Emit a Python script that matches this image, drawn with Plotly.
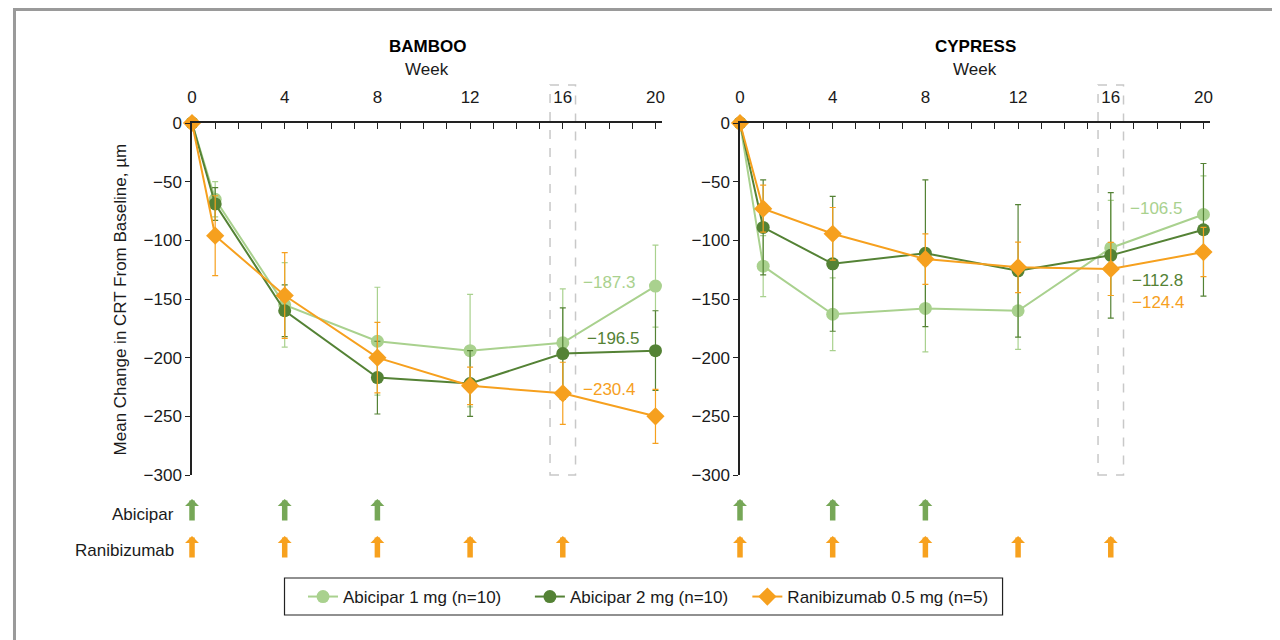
import plotly.graph_objects as go

# ---------------- data ----------------
weeks = [0, 1, 4, 8, 12, 16, 20]
x_tick_vals = list(range(0, 21))
x_tick_labels = [str(w) if w % 4 == 0 else "" for w in x_tick_vals]
y_tick_vals = [0, -50, -100, -150, -200, -250, -300]
y_tick_labels = ["0", "\u221250", "\u2212100", "\u2212150", "\u2212200", "\u2212250", "\u2212300"]

series_names = ["Abicipar 1 mg (n=10)", "Abicipar 2 mg (n=10)", "Ranibizumab 0.5 mg (n=5)"]

bamboo_abi1 = [0, -65, -155, -186, -194, -187.3, -139]
bamboo_abi1_err = [0, 15, 36, 46, 48, 46, 35]
bamboo_abi2 = [0, -69, -160, -217, -222, -196.5, -194]
bamboo_abi2_err = [0, 14, 22, 31, 28, 39, 34]
bamboo_rani = [0, -96, -147, -200, -224, -230.4, -250]
bamboo_rani_err = [0, 34, 36.5, 30, 16, 26.5, 23]

cypress_abi1 = [0, -122, -163, -158, -160, -106.5, -78]
cypress_abi1_err = [0, 26, 31, 37, 33, 40.5, 33]
cypress_abi2 = [0, -89, -120, -111, -126, -112.8, -91]
cypress_abi2_err = [0, 40.5, 57.5, 62.5, 56.5, 53.5, 56.5]
cypress_rani = [0, -73, -94.4, -116, -123, -124.4, -110]
cypress_rani_err = [0, 20, 22.4, 21.5, 21.5, 22.6, 21]

highlight_week = 16
abicipar_dose_weeks = [0, 4, 8]
ranibizumab_dose_weeks = [0, 4, 8, 12, 16]

panel_titles = ["BAMBOO", "CYPRESS"]

# ---------------- styling ----------------
FONT = "Liberation Sans, Arial, sans-serif"
TXT = "#1a1a1a"
LIGHT = "#A9D18E"
DARK = "#548235"
ORANGE = "#F6A01E"
ARROW_GREEN = "#76A757"
ARROW_ORANGE = "#F7A11E"
colors = [LIGHT, DARK, ORANGE]
symbols = ["circle", "circle", "diamond"]
msizes = [13, 13, 14]
legend_pad = ["\u00a0" * 5, "\u00a0" * 3, ""]

W, H = 1280, 640
OFF = 8  # page body margin: page px = figure px + OFF
PLOT_TOP, PLOT_BOT = 123, 475  # page px of the plot area
MT = PLOT_TOP - OFF
MB = H - (PLOT_BOT - OFF)
PH = PLOT_BOT - PLOT_TOP


def py(page_y):
    """page pixel y -> paper y"""
    return (PLOT_BOT - page_y) / PH


def px(page_x):
    """page pixel x -> paper x"""
    return (page_x - OFF) / W


fig = go.Figure()

panels = [
    ("x", "y", [bamboo_abi1, bamboo_abi2, bamboo_rani],
     [bamboo_abi1_err, bamboo_abi2_err, bamboo_rani_err]),
    ("x2", "y2", [cypress_abi1, cypress_abi2, cypress_rani],
     [cypress_abi1_err, cypress_abi2_err, cypress_rani_err]),
]

for pi, (xa, ya, vals, errs) in enumerate(panels):
    for si in range(3):
        fig.add_trace(go.Scatter(
            x=weeks, y=vals[si], xaxis=xa, yaxis=ya,
            mode="lines+markers", name=series_names[si] + legend_pad[si],
            showlegend=(pi == 0), cliponaxis=False,
            line=dict(color=colors[si], width=2),
            marker=dict(color=colors[si], symbol=symbols[si], size=msizes[si]),
            error_y=dict(type="data", array=errs[si], symmetric=True,
                         color=colors[si], thickness=1.2, width=3),
        ))

axis_common = dict(showgrid=False, zeroline=False, showline=True,
                   linecolor="#222", linewidth=1.5, tickcolor="#222",
                   tickfont=dict(family=FONT, size=17, color=TXT), fixedrange=True)

P1 = (188, 661)
P2 = (739, 1212)

fig.update_layout(
    xaxis=dict(domain=[px(P1[0]), px(P1[1])], range=[0, 20.3], side="top", anchor="y",
               ticks="inside", ticklen=6, tickwidth=1.2, tickmode="array",
               tickvals=x_tick_vals, ticktext=x_tick_labels, ticklabelstandoff=11,
               **axis_common),
    yaxis=dict(domain=[0, 1], range=[-300, 0], anchor="x", ticks="outside",
               ticklen=5, tickwidth=1.2, tickmode="array", tickvals=y_tick_vals,
               ticktext=y_tick_labels, **axis_common),
    xaxis2=dict(domain=[px(P2[0]), px(P2[1])], range=[0, 20.3], side="top", anchor="y2",
                ticks="inside", ticklen=6, tickwidth=1.2, tickmode="array",
                tickvals=x_tick_vals, ticktext=x_tick_labels, ticklabelstandoff=11,
                **axis_common),
    yaxis2=dict(domain=[0, 1], range=[-300, 0], anchor="x2", ticks="outside",
                ticklen=5, tickwidth=1.2, tickmode="array", tickvals=y_tick_vals,
                ticktext=y_tick_labels, **axis_common),
)

shapes = []
# outer frame
shapes.append(dict(type="rect", xref="paper", yref="paper",
                   x0=px(9.5), x1=px(1277.5), y0=py(660), y1=py(9.5),
                   line=dict(color="#9a9a9a", width=3), fillcolor="rgba(0,0,0,0)"))
# legend frame
shapes.append(dict(type="rect", xref="paper", yref="paper",
                   x0=px(281), x1=px(1003), y0=py(615), y1=py(578),
                   line=dict(color="#222", width=1.2), fillcolor="rgba(0,0,0,0)"))
# dashed highlight boxes around week 16
for xa in ["x", "x2"]:
    shapes.append(dict(type="rect", xref=xa, yref="paper",
                       x0=highlight_week - 0.55, x1=highlight_week + 0.55,
                       y0=0, y1=py(85),
                       line=dict(color="#c8c8c8", width=1.5, dash="dash"),
                       fillcolor="rgba(0,0,0,0)", layer="below"))

annotations = []
for (a, b), title in zip([P1, P2], panel_titles):
    pc = (a + b) / 2
    annotations.append(dict(x=px(pc), y=py(46), xref="paper", yref="paper",
                            xanchor="center", yanchor="middle",
                            text="<b>%s</b>" % title, showarrow=False,
                            font=dict(family=FONT, size=17, color="#000")))
    annotations.append(dict(x=px(pc), y=py(70), xref="paper", yref="paper",
                            xanchor="center", yanchor="middle",
                            text="Week", showarrow=False,
                            font=dict(family=FONT, size=17, color=TXT)))

annotations.append(dict(x=px(116), y=0.5, xref="paper", yref="paper",
                        xanchor="center", yanchor="middle",
                        text="Mean Change in CRT From Baseline, \u00b5m", textangle=-90,
                        showarrow=False, font=dict(family=FONT, size=17, color=TXT)))

# value labels at week 16
label_offsets = {
    "x": [(16.8, -136), (16.95, -184), (16.8, -227)],
    "x2": [(16.75, -73), (16.85, -134), (16.85, -153)],
}
for (xa, ya, vals, errs) in panels:
    for si in range(3):
        v = vals[si][weeks.index(highlight_week)]
        lx, ly = label_offsets[xa][si]
        annotations.append(dict(x=lx, y=ly, xref=xa, yref=ya, xanchor="left",
                                yanchor="middle",
                                text="\u2212%.1f" % abs(v), showarrow=False,
                                font=dict(family=FONT, size=17, color=colors[si])))

# dosing rows
annotations.append(dict(x=px(172), y=py(514), xref="paper", yref="paper",
                        xanchor="right", yanchor="middle",
                        text="Abicipar", showarrow=False,
                        font=dict(family=FONT, size=17, color=TXT)))
annotations.append(dict(x=px(172), y=py(550), xref="paper", yref="paper",
                        xanchor="right", yanchor="middle",
                        text="Ranibizumab", showarrow=False,
                        font=dict(family=FONT, size=17, color=TXT)))
arrow_style = dict(showarrow=True, ax=0, ay=23, arrowhead=1, arrowsize=0.42,
                   arrowwidth=5.5, standoff=0, text="")
for xa in ["x", "x2"]:
    for wk in abicipar_dose_weeks:
        annotations.append(dict(x=wk, y=py(499), xref=xa, yref="paper",
                                arrowcolor=ARROW_GREEN, **arrow_style))
    for wk in ranibizumab_dose_weeks:
        annotations.append(dict(x=wk, y=py(536), xref=xa, yref="paper",
                                arrowcolor=ARROW_ORANGE, **arrow_style))

fig.update_layout(
    width=W, height=H,
    margin=dict(l=0, r=0, t=MT, b=MB, pad=0),
    paper_bgcolor="white", plot_bgcolor="white",
    font=dict(family=FONT, size=17, color=TXT),
    shapes=shapes, annotations=annotations,
    legend=dict(orientation="h", x=px(647), xanchor="center", y=py(597), yanchor="middle",
                borderwidth=0, bgcolor="rgba(0,0,0,0)",
                font=dict(family=FONT, size=17, color=TXT),
                entrywidth=0, itemwidth=30),
    hovermode=False,
)

fig.write_html("out.html")
